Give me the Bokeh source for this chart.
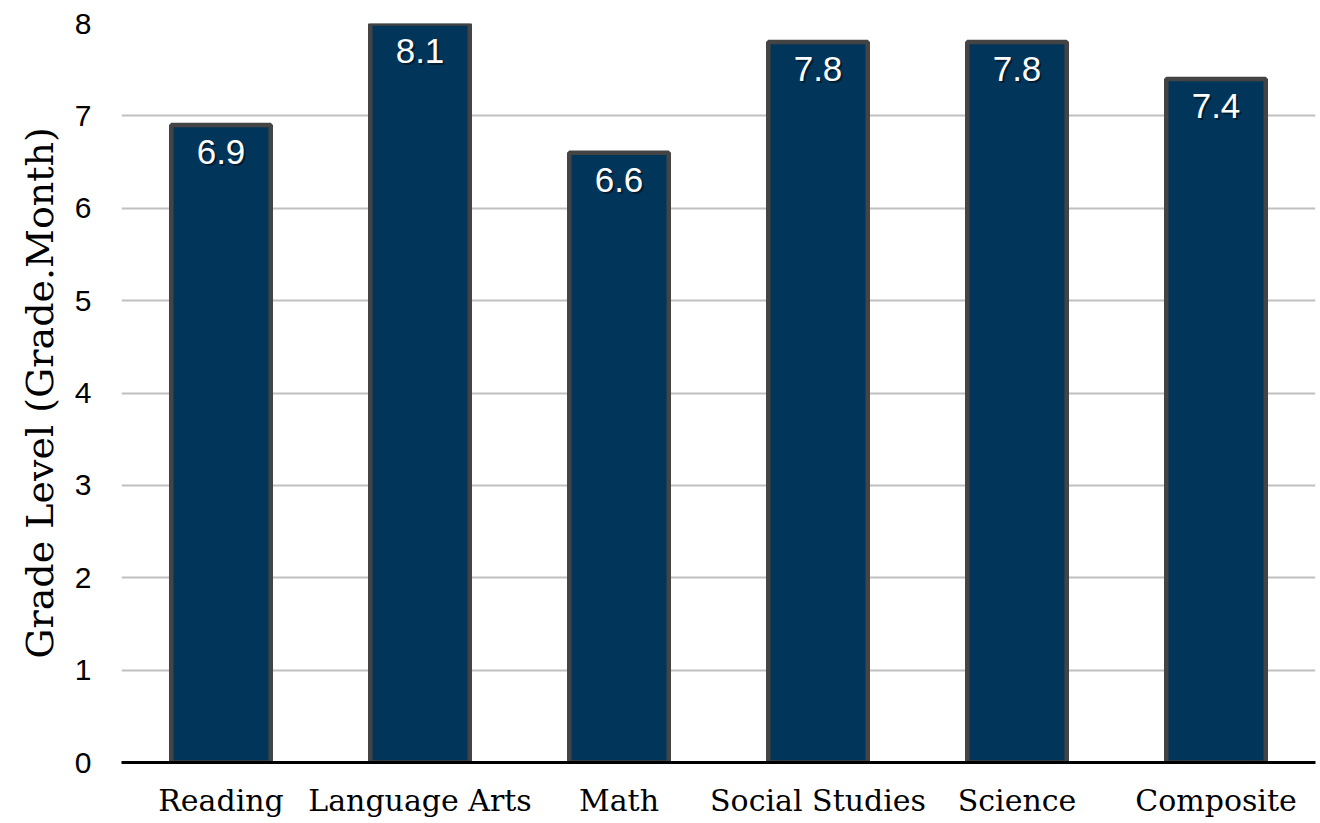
from bokeh.plotting import figure
from bokeh.models import ColumnDataSource, Range1d, FixedTicker
from bokeh.core.properties import value
from bokeh.embed import file_html
from bokeh.resources import INLINE

categories = ["Reading", "Language Arts", "Math", "Social Studies", "Science", "Composite"]
scores = [6.9, 8.1, 6.6, 7.8, 7.8, 7.4]
labels = ["6.9", "8.1", "6.6", "7.8", "7.8", "7.4"]
y_ticks = [0, 1, 2, 3, 4, 5, 6, 7, 8]
y_max = 8

label_y = [min(v, y_max) for v in scores]
src = ColumnDataSource(dict(cat=categories, val=scores, lab=labels, ly=label_y))

p = figure(x_range=categories, y_range=Range1d(0, y_max),
           frame_width=1194, frame_height=739,
           output_backend="svg", toolbar_location=None,
           min_border_left=121, min_border_right=3, min_border_top=23, min_border_bottom=55)

p.vbar(x="cat", top="val", bottom=0, width=0.5, source=src,
       fill_color="#02355A", line_color="#444444", line_width=4.5)

# shadow then label
p.text(x="cat", y="ly", text="lab", source=src, x_offset=2, y_offset=17,
       text_align="center", text_baseline="top", text_font=value("Liberation Sans"),
       text_font_size="35px", text_color="#000000", text_alpha=0.45)
p.text(x="cat", y="ly", text="lab", source=src, x_offset=0, y_offset=15,
       text_align="center", text_baseline="top", text_font=value("Liberation Sans"),
       text_font_size="35px", text_color="#ffffff")

p.outline_line_color = None
p.background_fill_color = "white"
p.border_fill_color = "white"

p.xgrid.grid_line_color = None
p.ygrid.grid_line_color = "#c0c0c0"
p.ygrid.grid_line_width = 2

p.yaxis.ticker = FixedTicker(ticks=y_ticks)
p.yaxis.axis_line_color = None
p.yaxis.major_tick_line_color = None
p.yaxis.minor_tick_line_color = None
p.yaxis.major_tick_out = 0
p.yaxis.major_tick_in = 0
p.yaxis.major_label_standoff = 30
p.yaxis.major_label_text_font = "Liberation Sans"
p.yaxis.major_label_text_font_size = "30px"
p.yaxis.major_label_text_color = "#000000"
p.yaxis.axis_label = "Grade Level (Grade.Month)"
p.yaxis.axis_label_text_font = "DejaVu Serif"
p.yaxis.axis_label_text_font_size = "38px"
p.yaxis.axis_label_text_font_style = "normal"
p.yaxis.axis_label_text_color = "#000000"
p.yaxis.axis_label_standoff = 10

p.xaxis.axis_line_color = "#000000"
p.xaxis.axis_line_width = 3
p.xaxis.major_tick_line_color = None
p.xaxis.minor_tick_line_color = None
p.xaxis.major_tick_out = 0
p.xaxis.major_tick_in = 0
p.xaxis.major_label_standoff = 20
p.xaxis.major_label_text_font = "DejaVu Serif"
p.xaxis.major_label_text_font_size = "30px"
p.xaxis.major_label_text_color = "#000000"

open("out.html", "w").write(file_html(p, INLINE))
